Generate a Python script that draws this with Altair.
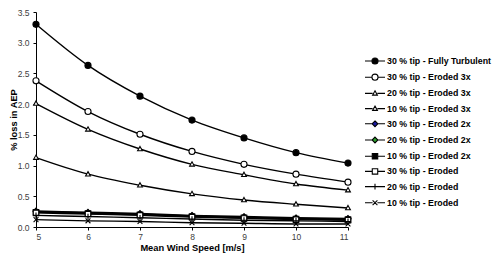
import altair as alt
import pandas as pd

# ---------------- data ----------------
wind_speed = [5, 6, 7, 8, 9, 10, 11]

series_names = [
    "30 % tip - Fully Turbulent",
    "30 % tip - Eroded 3x",
    "20 % tip - Eroded 3x",
    "10 % tip - Eroded 3x",
    "30 % tip - Eroded 2x",
    "20 % tip - Eroded 2x",
    "10 % tip - Eroded 2x",
    "30 % tip - Eroded",
    "20 % tip - Eroded",
    "10 % tip - Eroded",
]

tip30_fully_turbulent = [3.30, 2.63, 2.13, 1.74, 1.45, 1.21, 1.04]
tip30_eroded_3x = [2.38, 1.88, 1.51, 1.23, 1.02, 0.86, 0.73]
tip20_eroded_3x = [2.01, 1.59, 1.27, 1.02, 0.85, 0.70, 0.60]
tip10_eroded_3x = [1.13, 0.86, 0.68, 0.54, 0.44, 0.37, 0.31]
tip30_eroded_2x = [0.26, 0.24, 0.22, 0.19, 0.17, 0.15, 0.14]
tip20_eroded_2x = [0.25, 0.23, 0.21, 0.18, 0.16, 0.14, 0.13]
tip10_eroded_2x = [0.24, 0.22, 0.20, 0.17, 0.15, 0.13, 0.12]
tip30_eroded = [0.23, 0.21, 0.19, 0.16, 0.14, 0.12, 0.11]
tip20_eroded = [0.19, 0.17, 0.15, 0.13, 0.11, 0.10, 0.09]
tip10_eroded = [0.12, 0.10, 0.09, 0.07, 0.06, 0.05, 0.05]

series_values = [
    tip30_fully_turbulent, tip30_eroded_3x, tip20_eroded_3x, tip10_eroded_3x,
    tip30_eroded_2x, tip20_eroded_2x, tip10_eroded_2x,
    tip30_eroded, tip20_eroded, tip10_eroded,
]

y_ticks = [0.0, 0.5, 1.0, 1.5, 2.0, 2.5, 3.0, 3.5]

fill_colors = ["black", "white", "white", "white", "#1a1aa0", "#2ca02c",
               "black", "white", "white", "white"]
stroke_colors = ["black"] * len(series_names)

# ---------------- marker shapes (unit space, size 256 -> 8px per unit) ----------------
circle = "M-0.38,0A0.38,0.38 0 1,0 0.38,0A0.38,0.38 0 1,0 -0.38,0Z"
triangle = "M0,-0.32L0.3,0.22L-0.3,0.22Z"
diamond = "M0,-0.36L0.36,0L0,0.36L-0.36,0Z"
square = "M-0.34,-0.34L0.34,-0.34L0.34,0.34L-0.34,0.34Z"
plus = "M-0.36,0L0.36,0M0,-0.36L0,0.36"
cross = "M-0.3,-0.3L0.3,0.3M0.3,-0.3L-0.3,0.3"

markers = [circle, circle, triangle, triangle, diamond, diamond, square, square, plus, cross]
half_w = [0.38, 0.38, 0.3, 0.3, 0.36, 0.36, 0.34, 0.34, 0.0, 0.3]


def with_line(path, h):
    if h == 0:
        return "M-1.25,0L1.25,0" + path
    return f"M-1.25,0L-{h},0M{h},0L1.25,0" + path


legend_symbols = [with_line(p, h) for p, h in zip(markers, half_w)]

rows = []
for name, vals in zip(series_names, series_values):
    for xv, yv in zip(wind_speed, vals):
        rows.append({"series": name, "speed": xv, "loss": yv})
df = pd.DataFrame(rows)

FONT = "Liberation Sans"

x_enc = alt.X(
    "speed:Q",
    scale=alt.Scale(domain=[5, 11], nice=False, zero=False),
    axis=alt.Axis(values=wind_speed, format="d", title="Mean Wind Speed [m/s]",
                  tickSize=3, labelPadding=2, titlePadding=3),
)
y_enc = alt.Y(
    "loss:Q",
    scale=alt.Scale(domain=[0, 3.5], nice=False),
    axis=alt.Axis(values=y_ticks, format=".1f", title="% loss in AEP",
                  tickSize=3, labelPadding=4, titleX=-23, titleBaseline="middle"),
)

base = alt.Chart(df)

lines = base.mark_line(interpolate="monotone", color="black", strokeWidth=1.4).encode(
    x=x_enc, y=y_enc, detail="series:N"
)

points = base.mark_point(size=256, stroke="black", strokeWidth=1.1, opacity=1).encode(
    x=x_enc,
    y=y_enc,
    shape=alt.Shape("series:N", scale=alt.Scale(domain=series_names, range=markers), legend=None),
    fill=alt.Fill("series:N", scale=alt.Scale(domain=series_names, range=fill_colors), legend=None),
)

legend_def = alt.Legend(
    title=None, orient="none", legendX=330, legendY=40,
    symbolSize=256, symbolStrokeWidth=1.1, symbolStrokeColor="black", symbolOpacity=1,
    labelFont=FONT, labelFontSize=8.8, labelFontWeight="bold", labelColor="black",
    labelOffset=3, rowPadding=1.2, padding=0, labelLimit=200,
)

legend_layer = base.mark_point(size=256, strokeWidth=1.1, opacity=0).encode(
    x=x_enc,
    y=y_enc,
    shape=alt.Shape("series:N", scale=alt.Scale(domain=series_names, range=legend_symbols), legend=legend_def),
    fill=alt.Fill("series:N", scale=alt.Scale(domain=series_names, range=fill_colors), legend=legend_def),
    stroke=alt.Stroke("series:N", scale=alt.Scale(domain=series_names, range=stroke_colors), legend=legend_def),
)

chart = (
    alt.layer(lines, points, legend_layer)
    .resolve_scale(shape="independent", fill="independent", stroke="independent")
    .properties(
        width=312, height=215,
        autosize=alt.AutoSizeParams(type="none"),
        padding={"left": 28, "top": 4, "right": 144, "bottom": 26},
        background="white",
    )
    .configure_view(stroke=None)
    .configure_axis(
        grid=False, domainColor="black", domainWidth=1, tickColor="black", tickWidth=1,
        labelFont=FONT, labelFontSize=8.5, labelColor="#404040",
        titleFont=FONT, titleFontSize=9.3, titleFontWeight="bold", titleColor="black",
    )
)

chart.save("out.html", embed_options={"renderer": "svg", "actions": False})
